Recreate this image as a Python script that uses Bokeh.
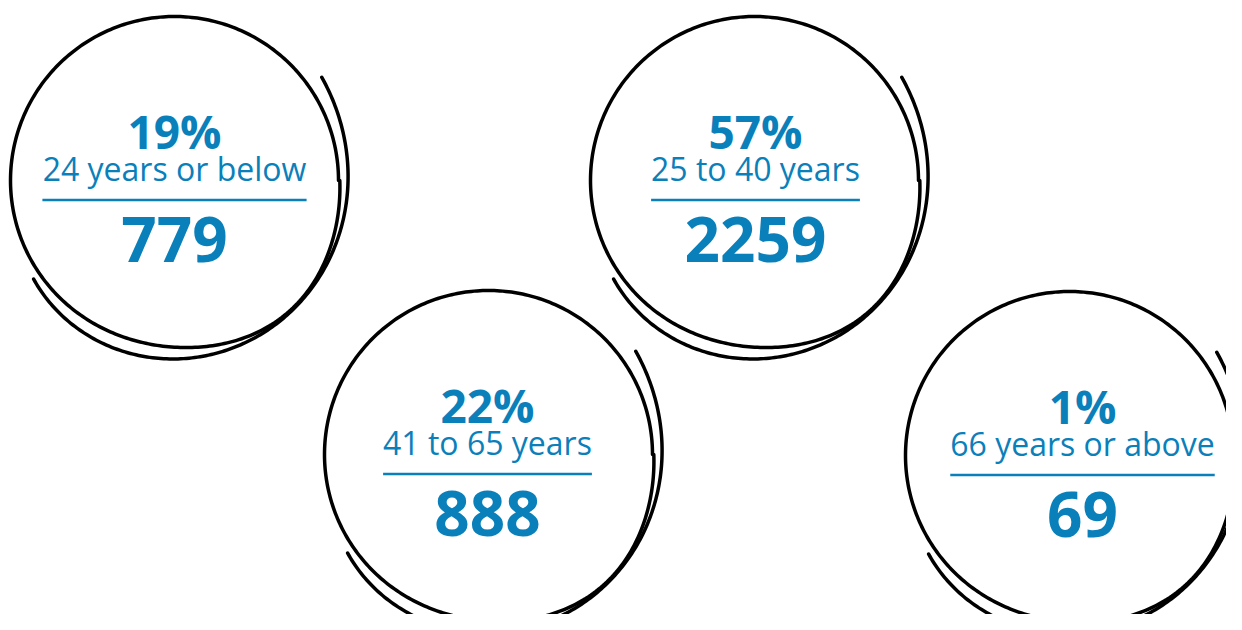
import numpy as np
from bokeh.plotting import figure
from bokeh.models import Range1d, ColumnDataSource
from bokeh.core.properties import value
from bokeh.embed import file_html
from bokeh.resources import INLINE

# ---------------- data ----------------
age_groups = ["24 years or below", "25 to 40 years", "41 to 65 years", "66 years or above"]
percents = [19, 57, 22, 1]
counts = [779, 2259, 888, 69]

# ---------------- layout (pixels, y downward) ----------------
W, H = 1226, 614
circle_cx = [174, 754, 488, 1069]
circle_cy = [180, 180, 454, 455]
text_x = [174, 755, 487, 1082]
BLUE = "#0A80BB"
FONT = "Open Sans"
PCT_SIZE, LABEL_SIZE, COUNT_SIZE = 46, 32, 62

# Open Sans regular advance widths (units / 2048) for underline length
ADV = {" ": 532, "a": 1139, "b": 1255, "e": 1149, "l": 518, "o": 1237, "r": 836,
       "s": 977, "t": 723, "v": 1010, "w": 1614, "y": 1024}
def text_width(s, size):
    return sum(ADV.get(ch, 1171) for ch in s) / 2048.0 * size

p = figure(width=W, height=H, output_backend="svg", toolbar_location=None,
           x_range=Range1d(0, W), y_range=Range1d(H, 0),
           min_border=0, background_fill_color="white", border_fill_color="white")
p.outline_line_color = None
p.axis.visible = False
p.grid.visible = False

# hand-drawn circle outlines (decorative shape)
deg = np.linspace(0, 360, 361)
th = np.radians(deg)
main_r = 164 + 10 * np.exp(-((deg - 50) / 35.0) ** 2)
arc_deg = np.linspace(-35, 145, 200)
coef = np.polyfit([-35, 0, 38, 86, 145], [180, 173, 175, 178, 172], 3)
arc_r = np.polyval(coef, arc_deg)
arc_th = np.radians(arc_deg)

xs, ys = [], []
for cx, cy in zip(circle_cx, circle_cy):
    xs.append(cx + main_r * np.cos(th)); ys.append(cy + main_r * np.sin(th))
    xs.append(cx + arc_r * np.cos(arc_th)); ys.append(cy + arc_r * np.sin(arc_th))
p.multi_line(xs, ys, line_color="black", line_width=3.5, line_cap="round",
             line_join="round")

# texts
pct_src = ColumnDataSource(dict(x=text_x, y=[cy - 50 for cy in circle_cy],
                                t=[f"{v}%" for v in percents]))
lab_src = ColumnDataSource(dict(x=text_x, y=[cy - 12 for cy in circle_cy], t=age_groups))
cnt_src = ColumnDataSource(dict(x=text_x, y=[cy + 59 for cy in circle_cy],
                                t=[str(c) for c in counts]))

p.text("x", "y", text="t", source=pct_src, text_font=value(FONT), text_font_style="bold",
       text_font_size=f"{PCT_SIZE}px", text_color=BLUE, text_align="center",
       text_baseline="alphabetic")
p.text("x", "y", text="t", source=lab_src, text_font=value(FONT), text_font_style="normal",
       text_font_size=f"{LABEL_SIZE}px", text_color=BLUE, text_align="center",
       text_baseline="alphabetic")
p.text("x", "y", text="t", source=cnt_src, text_font=value(FONT), text_font_style="bold",
       text_font_size=f"{COUNT_SIZE}px", text_color=BLUE, text_align="center",
       text_baseline="alphabetic")

# underline below each label
x0 = [x - text_width(s, LABEL_SIZE) / 2 for x, s in zip(text_x, age_groups)]
x1 = [x + text_width(s, LABEL_SIZE) / 2 for x, s in zip(text_x, age_groups)]
yl = [cy + 19.5 for cy in circle_cy]
p.segment(x0, yl, x1, yl, line_color=BLUE, line_width=2.5)

open("out.html", "w").write(file_html(p, INLINE))
